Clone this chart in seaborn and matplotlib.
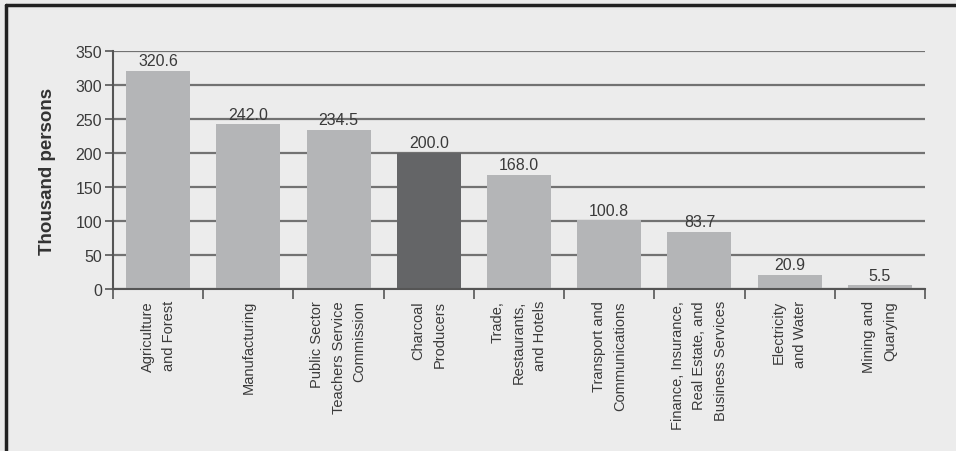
import matplotlib
matplotlib.use("Agg")
import matplotlib.pyplot as plt
from matplotlib import font_manager
import seaborn as sns
import pandas as pd
from matplotlib.lines import Line2D

categories = [
    "Agriculture\nand Forest",
    "Manufacturing",
    "Public Sector\nTeachers Service\nCommission",
    "Charcoal\nProducers",
    "Trade,\nRestaurants,\nand Hotels",
    "Transport and\nCommunications",
    "Finance, Insurance,\nReal Estate, and\nBusiness Services",
    "Electricity\nand Water",
    "Mining and\nQuarying",
]
values = [320.6, 242.0, 234.5, 200.0, 168.0, 100.8, 83.7, 20.9, 5.5]
highlight = "Charcoal\nProducers"
yticks = [0, 50, 100, 150, 200, 250, 300, 350]

sns.set_theme(style="white")
names = {f.name for f in font_manager.fontManager.ttflist}
fam = "Liberation Sans Narrow" if "Liberation Sans Narrow" in names else "Liberation Sans"
plt.rcParams["font.family"] = [fam, "DejaVu Sans"]

bg = "#ececec"
fig = plt.figure(figsize=(9.56, 4.52), dpi=100, facecolor=bg)
ax = fig.add_axes([113 / 956, 1 - 290 / 452, (925 - 113) / 956, (290 - 52) / 452])
ax.set_facecolor(bg)

df = pd.DataFrame({"cat": categories, "val": values})
palette = {c: ("#646567" if c == highlight else "#b4b5b7") for c in categories}
sns.barplot(data=df, x="cat", y="val", hue="cat", palette=palette, legend=False,
            width=0.71, saturation=1, ax=ax, zorder=2, edgecolor="none", linewidth=0)

ax.set_ylim(0, 350)
ax.set_xlim(-0.5, len(categories) - 0.5)
ax.set_yticks(yticks)
ax.yaxis.grid(True, color="#727272", linewidth=1.6, zorder=0)
ax.set_axisbelow(True)
for s in ["top", "right"]:
    ax.spines[s].set_visible(False)
for s in ["left", "bottom"]:
    ax.spines[s].set_color("#555555")
    ax.spines[s].set_linewidth(1.5)

ax.tick_params(axis="y", which="both", left=True, length=6, width=1.2, color="#555555",
               labelsize=11.5, labelcolor="#3a3a3a", pad=2)
ax.set_xticks([i - 0.5 for i in range(len(categories) + 1)], minor=True)
ax.set_xticks(range(len(categories)))
ax.tick_params(axis="x", which="major", length=0, pad=8)
ax.tick_params(axis="x", which="minor", bottom=True, length=6, width=1.2, color="#555555",
               direction="in")
ax.set_xticklabels(categories, rotation=90, ha="center", va="top", multialignment="right",
                   fontsize=10.5, color="#3a3a3a", linespacing=1.65)
for t in ax.xaxis.get_minor_ticks():
    t.tick1line.set_marker(3)  # TICKDOWN
    t.tick1line.set_markersize(7)

ax.set_xlabel("")
ax.set_ylabel("Thousand persons", fontsize=13.5, fontweight="bold", color="#333333", labelpad=14)

for i, v in enumerate(values):
    ax.text(i, v + 4, f"{v:.1f}", ha="center", va="bottom", fontsize=11.5, color="#3a3a3a")

fig.add_artist(Line2D([6 / 956, 1], [1 - 6 / 452] * 2, transform=fig.transFigure,
                      color="#222222", linewidth=2.5))
fig.add_artist(Line2D([6 / 956] * 2, [0, 1 - 6 / 452], transform=fig.transFigure,
                      color="#222222", linewidth=2.5))

fig.savefig("out.png", dpi=100, facecolor=bg)
